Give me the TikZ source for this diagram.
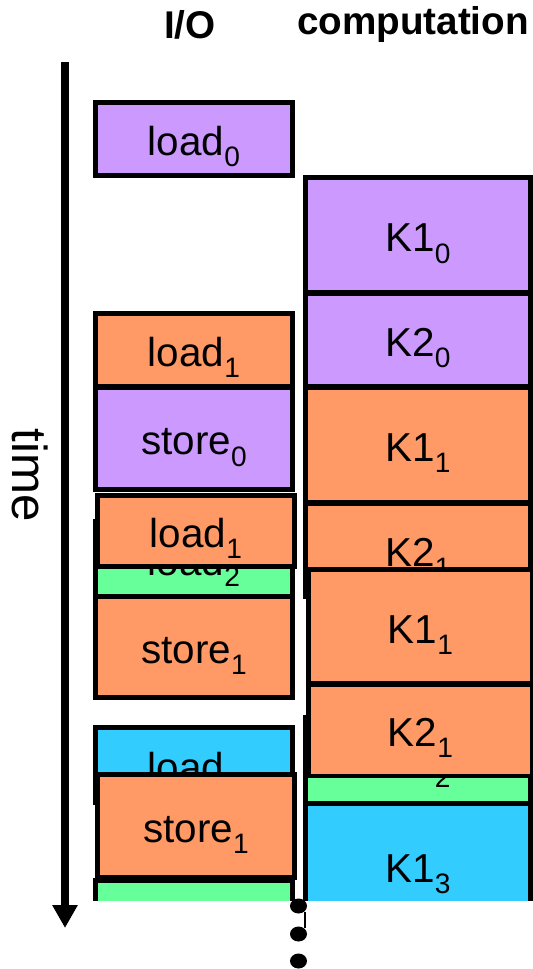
\documentclass[tikz,border=0pt]{standalone}
\usepackage{fontspec}
\setmainfont{Liberation Sans}
\usepackage{xcolor}
\usepackage{tikz}
\usetikzlibrary{arrows.meta,shapes.geometric}

\definecolor{iterzero}{HTML}{CC99FF}
\definecolor{iterone}{HTML}{FF9966}
\definecolor{itertwo}{HTML}{66FF99}
\definecolor{iterthree}{HTML}{33CCFF}

% index below the task name
\newcommand{\idx}[1]{\raisebox{-0.28em}{\fontsize{16}{16}\selectfont #1}}

\begin{document}
\begin{tikzpicture}[
  x=0.02cm, y=-0.02cm,
  slot/.style={rectangle, draw=black, line width=1mm, inner sep=0pt, text height=0.66cm, text depth=0cm, font=\fontsize{23}{27}\selectfont},
  io/.style={slot, minimum width=3.94cm},
  comp/.style={slot, minimum width=4.5cm},
  it0/.style={fill=iterzero},
  it1/.style={fill=iterone},
  it2/.style={fill=itertwo},
  it3/.style={fill=iterthree},
  heading/.style={font=\fontsize{22}{26}\selectfont\bfseries},
  dotmark/.style={ellipse, fill=black, minimum width=0.34cm, minimum height=0.3cm, inner sep=0pt},
  arrow/.style={line width=1.6mm, -{Triangle[length=4.6mm,width=4.8mm]}}
]
\useasboundingbox (0,0) rectangle (533,969);

% Column headings
\node (iohead) [heading] at (190,25) {I/O};
\node (comphead) [heading] at (413,25) {computation};

% Time axis
\coordinate (tstart) at (65,62);
\coordinate (tend) at (65,928);
\draw [arrow] (tstart) -- (tend);
\node (timelbl) [rotate=-90, font=\fontsize{28}{30}\selectfont] at (30,475) {time};

\begin{scope}
\clip (0,0) rectangle (533,900);
% I/O column
\node (load0) [io, it0, minimum height=1.46cm] at (194,139) {load\idx{0}};
\node (load1a) [io, it1, minimum height=1.47cm] at (194,350) {load\idx{1}};
\node (store0) [io, it0, minimum height=2.06cm] at (194,438.5) {store\idx{0}};
\node (load2) [io, it2, minimum height=1.52cm] at (194,559) {load\idx{2}};
\node (load1b) [io, it1, minimum height=1.42cm] at (196,531) {load\idx{1}};
\node (store1a) [io, it1, minimum height=2.01cm] at (194,647) {store\idx{1}};
\node (load3) [io, it3, minimum height=1.51cm] at (194,765) {load\idx{3}};
\node (store1b) [io, it1, minimum height=2.06cm] at (196,826) {store\idx{1}};
\node (load4) [io, it2, minimum height=1.6cm] at (194,920) {};

% computation column
\node (k1a) [comp, it0, minimum height=2.31cm] at (418,235.25) {K1\idx{0}};
\node (k2a) [comp, it0, minimum height=1.88cm] at (418,340) {K2\idx{0}};
\node (k1b) [comp, it1, minimum height=2.32cm] at (418,445) {K1\idx{1}};
\node (k2b) [comp, it1, minimum height=1.88cm] at (418,550) {K2\idx{1}};
\node (k1c) [comp, it2, minimum height=1.72cm] at (418,760) {K1\idx{2}};
\node (k1d) [comp, it1, minimum height=2.29cm] at (420.5,626.75) {K1\idx{1}};
\node (k2d) [comp, it1, minimum height=1.84cm] at (420.5,730) {K2\idx{1}};
\node (k1e) [comp, it3, minimum height=2.52cm] at (418,866) {K1\idx{3}};
\end{scope}

% more to come
\node (dot1) [dotmark] at (298.5,906) {};
\node (dot2) [dotmark] at (298.5,934) {};
\node (dot3) [dotmark] at (298.5,961) {};
\draw [line width=0.3mm] (dot1.south east) -- (dot2.north east);

\end{tikzpicture}
\end{document}
